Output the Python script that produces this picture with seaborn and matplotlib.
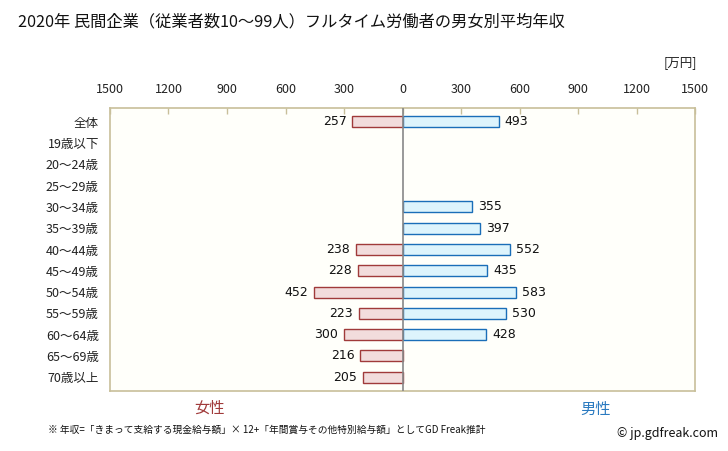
import numpy as np
import pandas as pd
import seaborn as sns
import matplotlib.pyplot as plt

# Data
categories = ['全体', '19歳以下', '20～24歳', '25～29歳', '30～34歳', '35～39歳', '40～44歳',
              '45～49歳', '50～54歳', '55～59歳', '60～64歳', '65～69歳', '70歳以上']
female = [257, np.nan, np.nan, np.nan, np.nan, np.nan, 238, 228, 452, 223, 300, 216, 205]
male = [493, np.nan, np.nan, np.nan, 355, 397, 552, 435, 583, 530, 428, np.nan, np.nan]
ticks = [-1500, -1200, -900, -600, -300, 0, 300, 600, 900, 1200, 1500]

df = pd.DataFrame({'cat': categories, 'female': female, 'male': male})
df['female_neg'] = -df['female']

sns.set_theme(style='white')
plt.rcParams['font.family'] = ['Noto Sans CJK JP', 'DejaVu Sans']

fig = plt.figure(figsize=(7.28, 4.51), dpi=100)
ax = fig.add_axes([0.151, 0.133, 0.804, 0.6275])
ax.set_facecolor('#fffffa')

sns.barplot(data=df, y='cat', x='female_neg', orient='h', color='#f2dcdc',
            edgecolor='#a03a3a', linewidth=1, width=0.52, saturation=1, ax=ax)
sns.barplot(data=df, y='cat', x='male', orient='h', color='#ddf4fc',
            edgecolor='#1a6eb8', linewidth=1, width=0.52, saturation=1, ax=ax)

ax.axvline(0, color='#888888', lw=1.2, zorder=5)

# value labels
for i, (f, m) in enumerate(zip(female, male)):
    if not np.isnan(f):
        ax.text(-f - 30, i, f'{int(f)}', ha='right', va='center', fontsize=9,
                family='DejaVu Sans', color='#111111')
    if not np.isnan(m):
        ax.text(m + 30, i, f'{int(m)}', ha='left', va='center', fontsize=9,
                family='DejaVu Sans', color='#111111')

ax.set_xlim(-1500, 1500)
ax.set_ylim(len(categories) - 0.35, -0.65)
ax.set_xticks(ticks)
ax.set_xticklabels([str(abs(t)) for t in ticks])
ax.xaxis.tick_top()
ax.tick_params(axis='x', direction='in', length=4, color='#c8bf9a', width=1,
               labelsize=9, pad=9, labelcolor='#222222')
ax.tick_params(axis='y', length=0, labelsize=9, labelcolor='#222222', pad=8)
ax.set_xlabel('')
ax.set_ylabel('')
for s in ax.spines.values():
    s.set_color('#c8bf9a')
    s.set_linewidth(1.2)

fig.text(18 / 728, 1 - 22 / 451, '2020年 民間企業（従業者数10～99人）フルタイム労働者の男女別平均年収',
         fontsize=11.7, va='center', ha='left', color='#111111')
fig.text(697 / 728, 1 - 63 / 451, '[万円]', fontsize=9, ha='right', va='center', color='#222222')
fig.text(210 / 728, 1 - 408 / 451, '女性', fontsize=11, ha='center', va='center', color='#a03a3a')
fig.text(596 / 728, 1 - 409 / 451, '男性', fontsize=11, ha='center', va='center', color='#2a7ac0')
fig.text(48 / 728, 1 - 430 / 451,
         '※ 年収=「きまって支給する現金給与額」× 12+「年間賞与その他特別給与額」としてGD Freak推計',
         fontsize=7, ha='left', va='center', color='#111111')
fig.text(718 / 728, 1 - 434 / 451, '© jp.gdfreak.com', fontsize=9, ha='right', va='center',
         color='#111111')

fig.savefig('out.png', dpi=100)
